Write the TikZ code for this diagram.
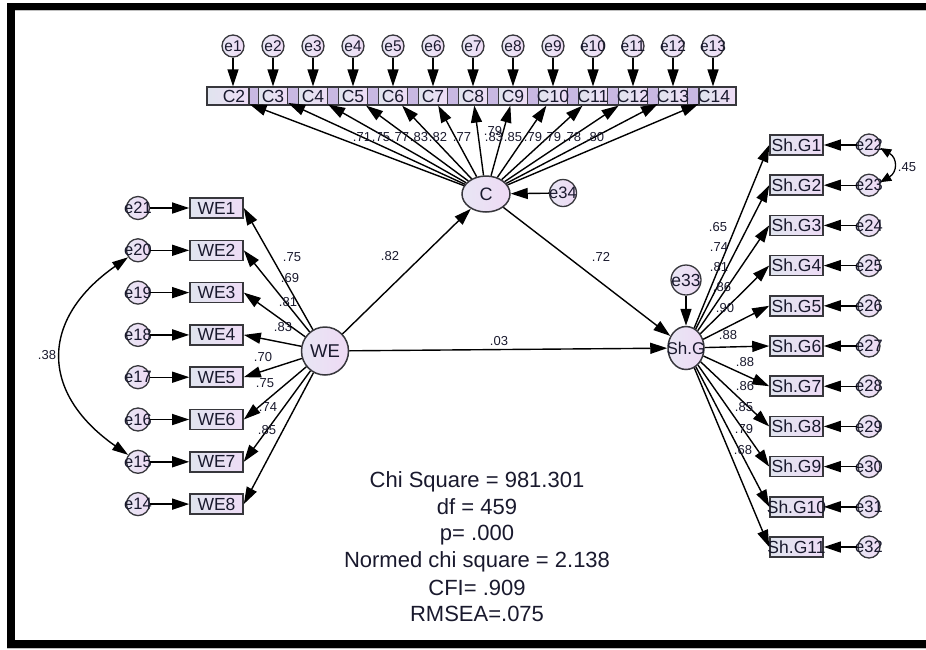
\documentclass[tikz,border=0pt]{standalone}
\usepackage{fontspec}
\setmainfont{Liberation Sans}
\usetikzlibrary{arrows.meta,shapes.geometric}
\definecolor{boxL}{RGB}{224,228,238}
\definecolor{boxR}{RGB}{238,220,246}
\definecolor{ellL}{RGB}{232,230,244}
\definecolor{ellR}{RGB}{238,218,244}
\definecolor{gapc}{RGB}{200,184,226}
\definecolor{edge}{RGB}{55,55,60}
\definecolor{txt}{RGB}{25,25,45}
\newcommand\zb[1]{\makebox[0pt]{#1}}
\begin{document}
\begin{tikzpicture}[x=1pt,y=1pt,
  obs/.style={rectangle, draw=edge, line width=1.6pt, inner sep=0pt, minimum width=53pt, minimum height=20pt, left color=boxL, right color=boxR, text=txt, font=\fontsize{17.5}{17.5}\selectfont},
  cbox/.style={obs, minimum width=29pt, minimum height=18pt, line width=1.2pt},
  err/.style={circle, draw=edge, line width=1.3pt, inner sep=0pt, minimum size=23pt, left color=ellL, right color=ellR, text=txt, font=\fontsize{16.5}{16.5}\selectfont},
  lat/.style={ellipse, draw=edge, line width=1.5pt, inner sep=0pt, left color=ellL, right color=ellR, text=txt, font=\fontsize{18}{18}\selectfont},
  arr/.style={draw=black, line width=1.4pt, -{Triangle[length=17pt,width=11pt]}},
  cov/.style={draw=black, line width=1.4pt, {Triangle[length=16pt,width=10pt]}-{Triangle[length=16pt,width=10pt]}},
  covs/.style={draw=black, line width=1.3pt, {Triangle[length=11pt,width=9pt]}-{Triangle[length=11pt,width=9pt]}},
  lab/.style={font=\fontsize{13}{13}\selectfont, text=txt, inner sep=0pt},
  stat/.style={font=\fontsize{22}{22}\selectfont, text=txt, inner sep=0pt, anchor=base}
]
\useasboundingbox (0,0) rectangle (926,-649);
% frame
\fill[black] (7,-2.5) rectangle (926,-9.5);
\fill[black] (7,-2.5) rectangle (15,-648);
\fill[black] (7,-640) rectangle (926,-648);
\draw[black!25, line width=0.8pt] (15,-10.3) -- (926,-10.3);
\draw[black!25, line width=0.6pt] (7,-648.6) -- (926,-648.6);

% C indicator strip
\filldraw[fill=gapc, draw=edge, line width=1.2pt] (207,-87) rectangle (736,-105);
\node[cbox, minimum width=42pt] (C2) at (228,-96) {\zb{\hspace{12pt}C2}};
\foreach \k in {3,...,13} {
  \pgfmathsetmacro\xx{233+40*(\k-2)}
  \node[cbox] (C\k) at (\xx,-96) {\zb{C\k}};
}
\node[cbox, minimum width=37pt] (C14) at (717.5,-96) {\zb{C14\hspace{7pt}}};
\foreach \i in {1,...,13} {
  \pgfmathsetmacro\xx{233+40*(\i-1)}
  \pgfmathtruncatemacro\kk{\i+1}
  \node[err, minimum size=22pt, font=\fontsize{15.5}{15.5}\selectfont] (e\i) at (\xx,-46) {\zb{e\i}};
  \draw[arr] (e\i) -- (e\i |- C\kk.north);
}

% latents
\node[lat, minimum width=48pt, minimum height=36pt] (C) at (486,-194) {C};
\node[err, minimum size=27pt, font=\fontsize{16.5}{16.5}\selectfont] (e34) at (563,-193) {\zb{e34}};
\node[lat, minimum width=47pt, minimum height=48pt, font=\fontsize{18.5}{18.5}\selectfont] (WE) at (325,-351) {WE};
\node[lat, minimum width=36pt, minimum height=43pt, font=\fontsize{17}{17}\selectfont] (ShG) at (686,-348) {\zb{Sh.G}};
\node[err, minimum size=30pt, font=\fontsize{17.5}{17.5}\selectfont] (e33) at (686,-280) {\zb{e33}};

\foreach \k in {2,...,14} { \draw[arr] (C) -- (C\k); }

% WE indicators
\foreach \k in {1,...,8} {
  \pgfmathsetmacro\yy{-(208+42.3*(\k-1))}
  \pgfmathtruncatemacro\eidx{22-\k}
  \node[obs] (WE\k) at (216.5,\yy) {\zb{WE\k}};
  \node[err] (e\eidx) at (138,\yy) {\zb{e\eidx}};
  \draw[arr] (e\eidx) -- (WE\k);
  \draw[arr] (WE) -- (WE\k.east);
}

% Sh.G indicators
\foreach \k in {1,...,11} {
  \pgfmathsetmacro\yy{-(145+40.2*(\k-1))}
  \pgfmathtruncatemacro\eidx{21+\k}
  \node[obs] (SG\k) at (796.5,\yy) {\zb{Sh.G\k}};
  \node[err, minimum size=22pt] (e\eidx) at (869,\yy) {\zb{e\eidx}};
  \draw[arr] (e\eidx) -- (SG\k);
  \draw[arr] (ShG) -- (SG\k.west);
}

% structural
\draw[arr] (WE) -- (C);
\draw[arr] (C) -- (ShG);
\draw[arr] (WE) -- (ShG);
\draw[arr] (e34) -- (C);
\draw[arr] (e33) -- (ShG);

% covariances
\draw[cov] (e20.215) to[out=215,in=145,looseness=1.4] (e15.145);
\draw[covs] (e22.-15) to[out=-30,in=30,looseness=1.5] (e23.15);

% labels
\node[lab] (l38) at (47,-355) {.38};
\node[lab] (l45) at (907,-167) {.45};
\node[lab] (l82) at (390,-256) {.82};
\node[lab] (l72) at (601,-257) {.72};
\node[lab] (l03) at (499,-341) {.03};
% WE loadings
\node[lab] at (292,-257) {.75};
\node[lab] at (290,-278) {.69};
\node[lab] at (288,-302) {.81};
\node[lab] at (283,-327) {.83};
\node[lab] at (263,-357) {.70};
\node[lab] at (265,-383) {.75};
\node[lab] at (268,-407) {.74};
\node[lab] at (267,-430) {.85};
% C loadings
\node[lab] at (362,-137) {.71};
\node[lab] at (381,-137) {.75};
\node[lab] at (400,-137) {.77};
\node[lab] at (419,-137) {.83};
\node[lab] at (438,-137) {.82};
\node[lab] at (462,-137) {.77};
\node[lab] at (493,-131) {.79};
\node[lab] at (494,-137) {.83};
\node[lab] at (513,-137) {.85};
\node[lab] at (533,-137) {.79};
\node[lab] at (552,-137) {.79};
\node[lab] at (572,-137) {.78};
\node[lab] at (595,-137) {.80};
% Sh.G loadings
\node[lab] at (718,-227) {.65};
\node[lab] at (719,-247) {.74};
\node[lab] at (719,-267) {.81};
\node[lab] at (722,-287) {.86};
\node[lab] at (725,-308) {.90};
\node[lab] at (728,-335) {.88};
\node[lab] at (745,-362) {.88};
\node[lab] at (745,-386) {.86};
\node[lab] at (744,-407) {.85};
\node[lab] at (744,-429) {.79};
\node[lab] at (743,-450) {.68};

% fit statistics
\node[stat] (s1) at (477,-487) {Chi Square = 981.301};
\node[stat] (s2) at (477,-514) {df = 459};
\node[stat] (s3) at (477,-540) {p= .000};
\node[stat] (s4) at (477,-567) {Normed chi square = 2.138};
\node[stat] (s5) at (477,-595) {CFI= .909};
\node[stat] (s6) at (477,-621) {RMSEA=.075};
\end{tikzpicture}
\end{document}
